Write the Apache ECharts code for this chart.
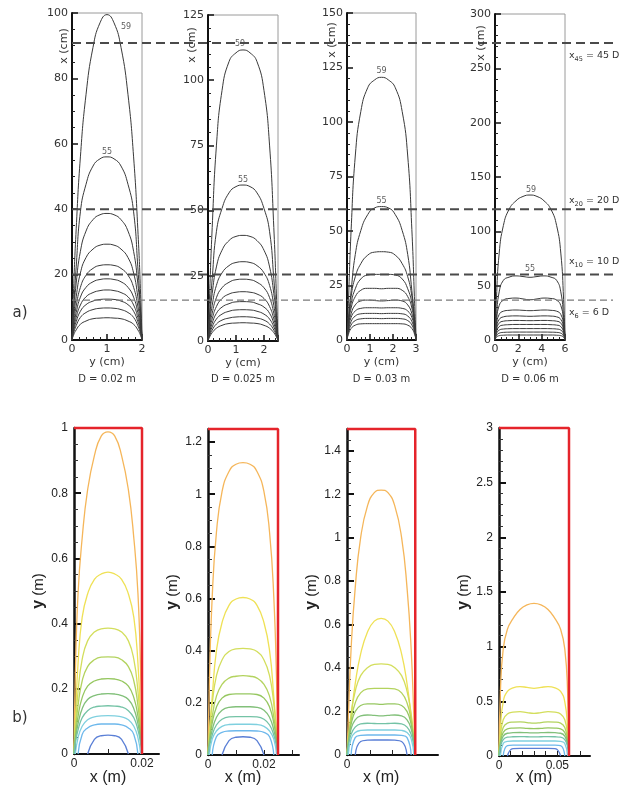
<!DOCTYPE html>
<html><head><meta charset="utf-8">
<script src="https://cdn.jsdelivr.net/npm/echarts@6/dist/echarts.min.js"></script>
<style>html,body{margin:0;padding:0;background:#fff}#c{width:621px;height:795px}</style>
</head><body><div id="c"></div>
<script>
// ---------- data ----------
const uHalf = [0, 0.02, 0.06, 0.12, 0.2, 0.3, 0.4, 0.5];   // fraction of D (half profile, symmetric)
const diamA = [2, 2.5, 3, 6];               // cm
const diamB = [0.02, 0.025, 0.03, 0.06];    // m
const diamLabels = ['D = 0.02 m', 'D = 0.025 m', 'D = 0.03 m', 'D = 0.06 m'];
const yMaxA = [100, 125, 150, 300];
const yStepA = [20, 25, 25, 50];
const yMinorA = [4, 5, 5, 5];
const xStepA = [1, 1, 1, 2];
const xMinorA = [5, 5, 5, 4];
const yMaxB = [1, 1.25, 1.5, 3];
const yStepB = [0.2, 0.2, 0.2, 0.5];
const yMinorB = [4, 4, 4, 5];
const xMaxB = [0.025, 0.0325, 0.04, 0.078];
const xShownB = [[0, 0.02], [0, 0.02], [0], [0, 0.05]];

const profA1 = [
 [0, 14, 34, 56, 75, 89.5, 97, 99.5],
 [0, 8.4, 22.4, 39.2, 47.6, 53.2, 55.4, 56],
 [0, 7.7, 17.4, 27.1, 33.3, 36.8, 38.3, 38.7],
 [0, 5.9, 13.2, 20.5, 25.2, 27.8, 29, 29.3],
 [0, 4.6, 10.4, 16.1, 19.8, 21.9, 22.8, 23],
 [0, 3.7, 8.4, 13.1, 16.1, 17.8, 18.5, 18.7],
 [0, 3.1, 6.9, 10.7, 13.2, 14.5, 15.1, 15.3],
 [0, 2.5, 5.6, 8.8, 10.8, 11.9, 12.4, 12.5],
 [0, 2, 4.4, 6.9, 8.4, 9.3, 9.7, 9.8],
 [0, 1.4, 3.1, 4.8, 5.8, 6.5, 6.7, 6.8]
];
const profA2 = [
 [0, 15.6, 43.5, 74.8, 96, 107.1, 110.5, 111.6],
 [0, 9, 23.9, 41.9, 50.8, 56.8, 59.2, 59.8],
 [0, 8.1, 18.2, 28.4, 34.8, 38.5, 40.1, 40.5],
 [0, 6.1, 13.7, 21.3, 26.1, 28.9, 30.1, 30.4],
 [0, 4.7, 10.7, 16.6, 20.4, 22.5, 23.5, 23.7],
 [0, 3.8, 8.5, 13.2, 16.3, 18, 18.7, 18.9],
 [0, 3, 6.8, 10.6, 13, 14.3, 15, 15.1],
 [0, 2.4, 5.4, 8.4, 10.3, 11.4, 11.9, 12],
 [0, 1.9, 4.2, 6.5, 8, 8.8, 9.2, 9.3],
 [0, 1.4, 3.2, 4.9, 6, 6.7, 6.9, 7]
];
const profA3 = [
 [0, 16.9, 50.6, 84.4, 104.8, 115.7, 119.3, 120.5],
 [0, 8.6, 22.6, 39.2, 50.2, 57.5, 60.6, 61.2],
 [0, 8.5, 20, 29, 35, 38.9, 40.3, 40.5],
 [0, 7.5, 16.9, 23.5, 28, 29.8, 30.1, 30.1],
 [0, 7.1, 14.7, 19.9, 22.8, 23.7, 23.7, 23.5],
 [0, 5.9, 12.1, 16.1, 17.9, 18.3, 18.1, 17.9],
 [0, 5.2, 10.4, 13.3, 14.5, 14.8, 14.8, 14.7],
 [0, 4.3, 8.5, 11, 12, 12.2, 12.2, 12.1],
 [0, 3.5, 6.9, 8.9, 9.7, 9.9, 9.9, 9.8],
 [0, 2.6, 5.3, 6.8, 7.4, 7.5, 7.5, 7.5]
];
const profA4 = [
 [0, 37.4, 80, 105.4, 120.1, 128.1, 132.1, 133.4],
 [0, 20.7, 44.3, 54.9, 57.8, 59, 58.4, 57.7],
 [0, 17.4, 31.7, 36.7, 38.2, 38.6, 37.8, 37],
 [0, 13.8, 23.5, 26.5, 27.3, 27.6, 27.3, 27],
 [0, 11.1, 18.9, 21.3, 22, 22.2, 22, 21.8],
 [0, 9.2, 15.5, 17.3, 17.8, 18, 17.9, 17.8],
 [0, 7.3, 12.3, 13.7, 14.1, 14.3, 14.3, 14.3],
 [0, 5.5, 9.1, 10.1, 10.4, 10.5, 10.5, 10.5],
 [0, 3.8, 6.3, 7, 7.2, 7.3, 7.3, 7.3],
 [0, 2.5, 4, 4.4, 4.6, 4.6, 4.6, 4.6]
];
const profB1 = [
 [0, .247, .494, .662, .81, .915, .975, .988],
 [0, .1, .279, .419, .491, .536, .552, .558],
 [0, .085, .193, .29, .347, .374, .384, .386],
 [0, .066, .149, .224, .268, .289, .297, .298],
 [0, .051, .116, .173, .208, .224, .23, .231],
 [0, .041, .093, .139, .167, .179, .184, .185],
 [0, .033, .074, .111, .133, .144, .147, .148],
 [null, 0, .05, .085, .105, .114, .117, .118],
 [null, null, 0, .06, .08, .089, .092, .092],
 [null, null, null, null, 0, .045, .056, .058]
];
const profB2 = [
 [0, .28, .605, .852, 1.009, 1.087, 1.115, 1.121],
 [0, .079, .223, .399, .507, .574, .598, .604],
 [0, .082, .196, .303, .364, .397, .407, .409],
 [0, .061, .146, .225, .271, .295, .302, .304],
 [0, .051, .122, .183, .218, .232, .234, .234],
 [0, .041, .096, .144, .172, .183, .185, .185],
 [0, .032, .076, .115, .137, .146, .147, .147],
 [null, 0, .061, .092, .11, .117, .118, .118],
 [null, null, 0, .07, .087, .092, .093, .093],
 [null, null, null, null, 0, .055, .068, .07]
];
const profB3 = [
 [0, .171, .488, .768, 1.0, 1.146, 1.207, 1.219],
 [0, .063, .176, .327, .465, .566, .616, .629],
 [0, .075, .189, .293, .365, .402, .417, .419],
 [0, .068, .16, .239, .286, .304, .307, .307],
 [0, .059, .141, .2, .228, .235, .235, .233],
 [0, .052, .12, .162, .18, .184, .182, .18],
 [0, .04, .095, .128, .143, .146, .145, .144],
 [null, 0, .075, .103, .113, .115, .115, .115],
 [null, null, 0, .08, .09, .092, .092, .092],
 [null, null, null, 0, .062, .068, .069, .069]
];
const profB4 = [
 [0, .586, .977, 1.159, 1.256, 1.34, 1.382, 1.396],
 [0, .254, .495, .59, .624, .634, .628, .619],
 [0, .182, .332, .385, .401, .405, .397, .39],
 [0, .14, .26, .3, .31, .312, .306, .30],
 [0, .12, .215, .248, .255, .257, .253, .25],
 [0, .1, .182, .208, .213, .215, .213, .211],
 [0, .085, .15, .172, .176, .177, .176, .175],
 [null, 0, .115, .133, .137, .137, .137, .137],
 [null, null, 0, .095, .1, .1, .1, .1],
 [null, null, null, 0, .068, .07, .07, .07]
];
const profilesA = [profA1, profA2, profA3, profA4];
const profilesB = [profB1, profB2, profB3, profB4];
const contourTags = ['59', '55'];
const colorsB = ['#f5b65a', '#efe155', '#d3de5c', '#b3d35e', '#96c760', '#82c07a', '#74c3a6', '#7fd0df', '#6db8ec', '#5a7fd6'];
const dashLevels = [90.8, 40, 20, 12.2];   // in panel (a) D=0.02 m units, cm
const dashSubs = ['45', '20', '10', '6'];
const dashTexts = [' = 45 D', ' = 20 D', ' = 10 D', ' = 6 D'];

// ---------- layout ----------
const gridsA = [
 {left: 72, top: 13, width: 70, height: 327},
 {left: 208, top: 15, width: 70, height: 326},
 {left: 347, top: 13, width: 69, height: 327},
 {left: 495, top: 14, width: 70, height: 326}
];
const gridsB = [
 {left: 74, top: 428, width: 85, height: 326},
 {left: 208, top: 429, width: 91, height: 326},
 {left: 347, top: 429, width: 91, height: 326},
 {left: 499, top: 428, width: 91, height: 328}
];
const tagOffsets = [[[19, 12], [0, -5]], [[-3, -6], [0, -5]], [[0, -6], [0, -6]], [[1, -5], [0, -8]]];
const xcmPos = [[64, 46], [192, 45], [332, 40], [481, 43]];
const dashLabelY = [56, 201, 262, 313];

const fontA = 'DejaVu Sans';
const fontB = 'Liberation Sans';

const uFull = uHalf.concat(uHalf.slice(0, -1).reverse().map(u => +(1 - u).toFixed(4)));
function mirror(h) { return h.concat(h.slice(0, -1).reverse()); }

const grid = [], xAxis = [], yAxis = [], series = [], graphic = [];

function txt(x, y, text, font, opts) {
  opts = opts || {};
  return {
    type: 'text', x: x, y: y, rotation: opts.rotation || 0, silent: true, z: 100,
    style: {
      text: text, x: 0, y: 0, font: font, fill: opts.fill || '#333',
      align: opts.align || 'center', verticalAlign: 'middle',
      textAlign: opts.align || 'center', textVerticalAlign: 'middle',
      rich: opts.rich
    }
  };
}

// ---- top row (a) ----
for (let i = 0; i < 4; i++) {
  const g = gridsA[i];
  grid.push(Object.assign({show: true, borderColor: '#9a9a9a', borderWidth: 1, backgroundColor: 'transparent'}, g));
  xAxis.push({
    type: 'value', gridIndex: i, min: 0, max: diamA[i], interval: xStepA[i],
    name: 'y (cm)', nameLocation: 'middle', nameGap: 17,
    nameTextStyle: {fontFamily: fontA, fontSize: 11, color: '#333'},
    axisLine: {show: true, onZero: false, lineStyle: {color: '#111', width: 2}},
    axisTick: {show: true, inside: true, length: 6, lineStyle: {color: '#111', width: 1.5}},
    minorTick: {show: true, splitNumber: xMinorA[i], length: 3, lineStyle: {color: '#222'}},
    axisLabel: {fontFamily: fontA, fontSize: 11, color: '#333', margin: 4, showMaxLabel: diamA[i] % xStepA[i] === 0},
    splitLine: {show: false}
  });
  yAxis.push({
    type: 'value', gridIndex: i, min: 0, max: yMaxA[i], interval: yStepA[i],
    axisLine: {show: true, onZero: false, lineStyle: {color: '#111', width: 2}},
    axisTick: {show: true, inside: true, length: 6, lineStyle: {color: '#111', width: 1.5}},
    minorTick: {show: true, splitNumber: yMinorA[i], length: 3, lineStyle: {color: '#222'}},
    axisLabel: {fontFamily: fontA, fontSize: 11, color: '#333', margin: 4},
    splitLine: {show: false}
  });
  const D = diamA[i];
  profilesA[i].forEach(h => {
    const hf = mirror(h);
    series.push({
      type: 'line', xAxisIndex: i, yAxisIndex: i, showSymbol: false, symbol: 'none',
      smooth: 0.5, clip: false, silent: true, animation: false,
      lineStyle: {color: '#3a3a3a', width: 1},
      data: uFull.map((u, k) => [u * D, hf[k]])
    });
  });
  series.push({
    type: 'scatter', xAxisIndex: i, yAxisIndex: i, symbolSize: 1, silent: true, animation: false,
    itemStyle: {color: 'rgba(0,0,0,0)'},
    data: contourTags.map((t, k) => ({
      value: [D / 2, profilesA[i][k][uHalf.length - 1]], name: t,
      label: {show: true, position: 'inside', offset: tagOffsets[i][k], formatter: t,
              fontFamily: fontA, fontSize: 8, color: '#333'}
    }))
  });
  graphic.push(txt(xcmPos[i][0], xcmPos[i][1], 'x (cm)', '11px ' + fontA, {rotation: Math.PI / 2}));
  graphic.push(txt(g.left + g.width / 2, 379, diamLabels[i], '10px ' + fontA));
}

// ---- bottom row (b) ----
for (let i = 0; i < 4; i++) {
  const gi = 4 + i;
  const g = gridsB[i];
  const shown = xShownB[i];
  grid.push(Object.assign({show: false}, g));
  xAxis.push({
    type: 'value', gridIndex: gi, min: 0, max: xMaxB[i], interval: 0.01,
    axisLine: {show: true, onZero: false, lineStyle: {color: '#111', width: 2}},
    axisTick: {show: true, inside: true, length: 5, lineStyle: {color: '#222', width: 1}},
    axisLabel: {fontFamily: fontB, fontSize: 12, color: '#222', margin: 4, showMaxLabel: false,
      formatter: v => shown.some(s => Math.abs(s - v) < 1e-9) ? String(+v.toFixed(3)) : ''},
    splitLine: {show: false}
  });
  yAxis.push({
    type: 'value', gridIndex: gi, min: 0, max: yMaxB[i], interval: yStepB[i],
    name: '{b|y} (m)', nameLocation: 'middle', nameGap: 27,
    nameTextStyle: {fontFamily: fontB, fontSize: 15, color: '#222', rich: {b: {fontFamily: fontB, fontSize: 16, fontWeight: 'bold', color: '#222'}}},
    axisLine: {show: true, onZero: false, lineStyle: {color: '#111', width: 2.5}},
    axisTick: {show: true, inside: true, length: 7, lineStyle: {color: '#111', width: 2}},
    minorTick: {show: true, splitNumber: yMinorB[i], length: 4, lineStyle: {color: '#333', width: 1}},
    axisLabel: {fontFamily: fontB, fontSize: 12, color: '#222', margin: 6, showMaxLabel: (yMaxB[i] / yStepB[i]) % 1 === 0},
    splitLine: {show: false}
  });
  const D = diamB[i];
  profilesB[i].forEach((h, k) => {
    const hf = mirror(h);
    series.push({
      type: 'line', xAxisIndex: gi, yAxisIndex: gi, showSymbol: false, symbol: 'none',
      smooth: 0.5, clip: false, silent: true, animation: false,
      lineStyle: {color: colorsB[k], width: 1.3},
      data: uFull.map((u, j) => [u * D, hf[j]])
    });
  });
  // wall outline (top and right side)
  series.push({
    type: 'line', xAxisIndex: gi, yAxisIndex: gi, showSymbol: false, symbol: 'none', clip: false,
    silent: true, animation: false, z: 4,
    lineStyle: {color: '#e5242b', width: 2.5},
    data: [[0, yMaxB[i]], [D, yMaxB[i]], [D, 0]]
  });
  const bw = D / xMaxB[i] * g.width;
  graphic.push(txt(g.left + bw / 2, 778, 'x (m)', '16px ' + fontB, {fill: '#222'}));
}

// ---- dashed reference lines (overlay, panel a1 units) ----
grid.push({left: 72, top: 13, width: 541, height: 327, show: false});
xAxis.push({type: 'value', gridIndex: 8, min: 0, max: 1, show: false});
yAxis.push({type: 'value', gridIndex: 8, min: 0, max: 100, show: false});
dashLevels.forEach((lv, k) => {
  const thin = k === 3;
  series.push({
    type: 'line', xAxisIndex: 8, yAxisIndex: 8, showSymbol: false, symbol: 'none', silent: true,
    animation: false, z: 5, clip: false,
    lineStyle: {color: thin ? '#7a7a7a' : '#4a4a4a', width: thin ? 1.2 : 2, type: thin ? [7, 4] : [9, 5]},
    data: [[0, lv], [1, lv]]
  });
  graphic.push(txt(569, dashLabelY[k], '{i|x}{s|' + dashSubs[k] + '}{i|' + dashTexts[k] + '}', '9.5px ' + fontA, {
    align: 'left',
    rich: {i: {fontFamily: fontA, fontSize: 9.5, color: '#333'},
           s: {fontFamily: fontA, fontSize: 6.5, color: '#333', verticalAlign: 'bottom', lineHeight: 14}}
  }));
});

graphic.push(txt(20, 313, 'a)', '15px ' + fontA, {fill: '#333'}));
graphic.push(txt(20, 718, 'b)', '15px ' + fontA, {fill: '#333'}));

const chart = echarts.init(document.getElementById('c'), null, {renderer: 'canvas'});
chart.setOption({
  animation: false, backgroundColor: '#fff',
  grid: grid, xAxis: xAxis, yAxis: yAxis, series: series, graphic: graphic
});
</script></body></html>
